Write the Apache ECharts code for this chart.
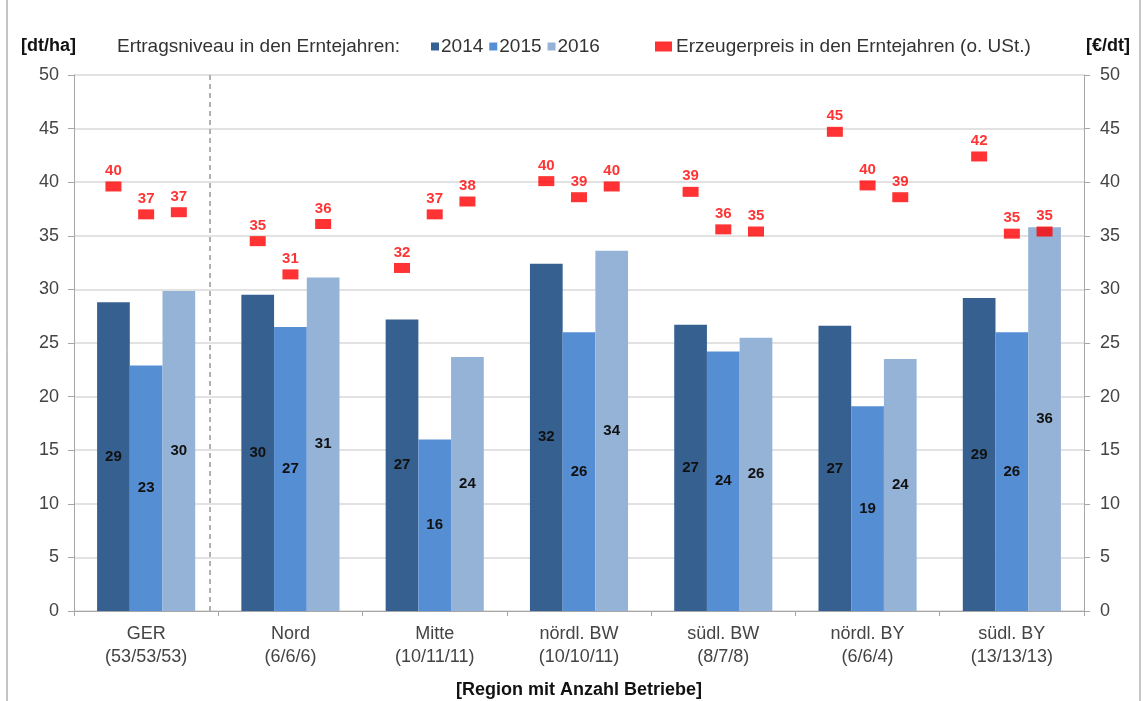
<!DOCTYPE html>
<html>
<head>
<meta charset="utf-8">
<script src="https://cdn.jsdelivr.net/npm/echarts@6/dist/echarts.min.js"></script>
<style>
  html, body { margin: 0; padding: 0; background: #fff; }
  #chart { width: 1143px; height: 701px; }
</style>
</head>
<body>
<div id="chart"></div>
<script>
// Regionen mit Anzahl Betriebe
var regions = ['GER\n(53/53/53)', 'Nord\n(6/6/6)', 'Mitte\n(10/11/11)', 'nördl. BW\n(10/10/11)',
               'südl. BW\n(8/7/8)', 'nördl. BY\n(6/6/4)', 'südl. BY\n(13/13/13)'];
var years = ['2014', '2015', '2016'];

// Ertragsniveau [dt/ha]
var ertrag2014 = [28.8, 29.5, 27.2, 32.4, 26.7, 26.6, 29.2];
var ertrag2015 = [22.9, 26.5, 16.0, 26.0, 24.2, 19.1, 26.0];
var ertrag2016 = [29.85, 31.1, 23.7, 33.6, 25.5, 23.5, 35.8];

// Erzeugerpreis [€/dt]
var preis2014 = [39.6, 34.5, 32.0, 40.1, 39.1, 44.7, 42.4];
var preis2015 = [37.0, 31.4, 37.0, 38.6, 35.6, 39.7, 35.2];
var preis2016 = [37.2, 36.1, 38.2, 39.6, 35.4, 38.6, 35.4];

var yTicks = { min: 0, max: 50, interval: 5 };

var colors = ['#36608f', '#568ed4', '#95b3d7'];
var font = 'Liberation Sans, Arial, sans-serif';

var chart = echarts.init(document.getElementById('chart'));

// bars take 68% of each category -> one bar = 0.68/3 of a category
var barShare = 0.68 / 3;
function pricePoints(arr, k) {
  return arr.map(function (v, i) { return [i + 0.5 + k * barShare, v]; });
}

function barSeries(name, data, color) {
  return {
    name: name,
    type: 'bar',
    data: data,
    barGap: '0%',
    barCategoryGap: '32%',
    itemStyle: { color: color },
    label: {
      show: true,
      position: 'inside',
      color: '#111',
      fontWeight: 'bold',
      fontSize: 15,
      fontFamily: font,
      formatter: function (p) { return Math.round(p.value); }
    }
  };
}

function priceSeries(data, k, withLine) {
  var s = {
    name: 'Erzeugerpreis in den Erntejahren (o. USt.)',
    type: 'scatter',
    xAxisIndex: 1,
    yAxisIndex: 1,
    data: pricePoints(data, k),
    symbol: 'rect',
    symbolSize: [16, 10],
    itemStyle: { color: '#ff0000' },
    label: {
      show: true,
      position: 'top',
      distance: 3,
      color: '#ff0000',
      fontWeight: 'bold',
      fontSize: 15,
      fontFamily: font,
      formatter: function (p) { return Math.round(p.value[1]); }
    },
    z: 5
  };
  if (withLine) {
    s.markLine = {
      silent: true,
      symbol: 'none',
      label: { show: false },
      lineStyle: { color: '#b0b0b0', type: [5, 4], width: 2 },
      data: [{ xAxis: 0.94 }]
    };
  }
  return s;
}

chart.setOption({
  animation: false,
  textStyle: { fontFamily: font },
  grid: { left: 74, right: 59, top: 75, bottom: 90, outerBoundsMode: 'none' },
  graphic: [
    {
      type: 'rect',
      shape: { x: 7, y: -5, width: 1133, height: 707 },
      style: { fill: 'none', stroke: '#8c8c8c', lineWidth: 1 },
      silent: true
    },
    {
      type: 'text',
      left: 117,
      top: 37,
      style: { text: 'Ertragsniveau in den Erntejahren:', fontSize: 19, fontFamily: font, fill: '#333' }
    }
  ],
  legend: [
    {
      data: years,
      left: 426,
      top: 32,
      itemWidth: 8,
      itemHeight: 8,
      itemGap: 6,
      icon: 'rect',
      textStyle: { fontSize: 19, color: '#333', padding: [0, 0, 0, -3] }
    },
    {
      data: ['Erzeugerpreis in den Erntejahren (o. USt.)'],
      left: 650,
      top: 32,
      itemWidth: 17,
      itemHeight: 10,
      icon: 'rect',
      textStyle: { fontSize: 19, color: '#333', padding: [0, 0, 0, -1] }
    }
  ],
  xAxis: [
    {
      type: 'category',
      data: regions,
      name: '[Region mit Anzahl Betriebe]',
      nameLocation: 'middle',
      nameGap: 70,
      nameTextStyle: { fontSize: 18, fontWeight: 'bold', color: '#111' },
      axisLine: { lineStyle: { color: '#a6a6a6' } },
      axisTick: { show: true, length: 5, lineStyle: { color: '#a6a6a6' } },
      axisLabel: { fontSize: 18, color: '#444', lineHeight: 23, margin: 12 }
    },
    {
      type: 'value',
      min: 0,
      max: 7,
      show: false
    }
  ],
  yAxis: [
    {
      type: 'value',
      min: yTicks.min,
      max: yTicks.max,
      interval: yTicks.interval,
      name: '[dt/ha]',
      nameGap: 20,
      nameTextStyle: { fontSize: 18, fontWeight: 'bold', color: '#111', align: 'right', padding: [0, -2, 0, 0] },
      axisLine: { show: true, lineStyle: { color: '#a6a6a6' } },
      axisTick: { show: true, length: 6, lineStyle: { color: '#a6a6a6' } },
      axisLabel: { fontSize: 18, color: '#444', margin: 15 },
      splitLine: { lineStyle: { color: '#d9d9d9', width: 1.5 } }
    },
    {
      type: 'value',
      min: yTicks.min,
      max: yTicks.max,
      interval: yTicks.interval,
      name: '[€/dt]',
      nameGap: 20,
      nameTextStyle: { fontSize: 18, fontWeight: 'bold', color: '#111', align: 'left', padding: [0, 0, 0, 2] },
      axisLine: { show: true, lineStyle: { color: '#a6a6a6' } },
      axisTick: { show: true, length: 6, lineStyle: { color: '#a6a6a6' } },
      axisLabel: { fontSize: 18, color: '#444', margin: 16 },
      splitLine: { show: false }
    }
  ],
  series: [
    barSeries('2014', ertrag2014, colors[0]),
    barSeries('2015', ertrag2015, colors[1]),
    barSeries('2016', ertrag2016, colors[2]),
    priceSeries(preis2014, -1, true),
    priceSeries(preis2015, 0, false),
    priceSeries(preis2016, 1, false)
  ]
});
</script>
</body>
</html>
